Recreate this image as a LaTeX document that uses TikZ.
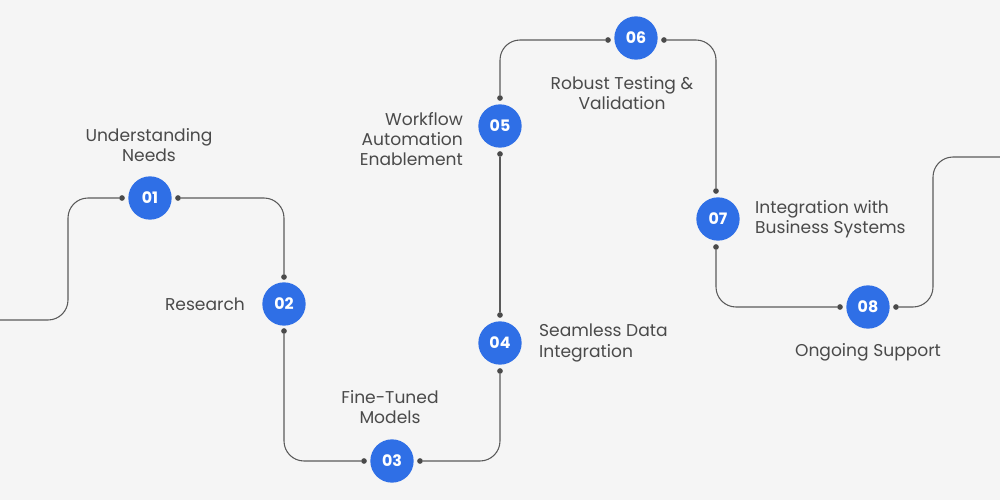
\documentclass[tikz,border=0pt]{standalone}
\usepackage{fontspec}
\setmainfont{Poppins}
\begin{document}
\begin{tikzpicture}[x=0.03cm,y=-0.03cm,
 stepnode/.style={circle,fill=stepblue,minimum size=1.3cm,inner sep=0pt,text=white,font=\fontsize{13.5}{13.5}\selectfont\bfseries},
 lab/.style={text=labgray,font=\fontsize{14.6}{17.2}\selectfont,align=center},
 conn/.style={draw=linegray,line width=0.9pt,rounded corners=0.6cm},
 dot/.style={circle,fill=dotgray,inner sep=0pt,minimum size=0.17cm}]
\definecolor{stepblue}{HTML}{2F6FE6}
\definecolor{labgray}{HTML}{4A4A4A}
\definecolor{linegray}{HTML}{5A5A5A}
\definecolor{dotgray}{HTML}{4A4A4A}
\fill[white!96!black] (0,0) rectangle (1000,500);
\useasboundingbox (0,0) rectangle (1000,500);
\node[stepnode] (s1) at (150,198) {01};
\node[stepnode] (s2) at (284,304) {02};
\node[stepnode] (s3) at (392,461) {03};
\node[stepnode] (s4) at (500,343) {04};
\node[stepnode] (s5) at (500,126) {05};
\node[stepnode] (s6) at (636,38) {06};
\node[stepnode] (s7) at (718,219) {07};
\node[stepnode] (s8) at (868,307) {08};
\node[lab] at (149,145) {Understanding\\Needs};
\node[lab,anchor=east] at (249,304) {Research};
\node[lab] at (390,407) {Fine-Tuned\\Models};
\node[lab,anchor=west,align=left] at (535,343) {Seamless Data\\Integration};
\node[lab,anchor=east,align=right] at (467,139) {Workflow\\Automation\\Enablement};
\node[lab] at (622,93) {Robust Testing \&\\Validation};
\node[lab,anchor=west,align=left] at (751,219) {Integration with\\Business Systems};
\node[lab] at (868,352) {Ongoing Support};
% dots
\node[dot] (a1) at (122,198) {}; \node[dot] (b1) at (178,198) {};
\node[dot] (a2) at (284,277) {}; \node[dot] (b2) at (284,331) {};
\node[dot] (a3) at (364,461) {}; \node[dot] (b3) at (420,461) {};
\node[dot] (a4) at (500,371) {}; \node[dot] (b4) at (500,315) {};
\node[dot] (a5) at (500,154) {}; \node[dot] (b5) at (500,98) {};
\node[dot] (a6) at (608,40) {}; \node[dot] (b6) at (664,40) {};
\node[dot] (a7) at (716,191) {}; \node[dot] (b7) at (716,247) {};
\node[dot] (a8) at (840,307) {}; \node[dot] (b8) at (896,307) {};
\coordinate (st) at (0,320);
\coordinate (en) at (1000,157);
\draw[conn] (st) -| (68,198) -- (a1);
\draw[conn] (b1) -| (a2);
\draw[conn] (b2) |- (a3);
\draw[conn] (b3) -| (a4);
\draw[conn] (b4) -- (a5);
\draw[conn] (b5) |- (a6);
\draw[conn] (b6) -| (a7);
\draw[conn] (b7) |- (a8);
\draw[conn] (b8) -| (933,157) -- (en);
\end{tikzpicture}
\end{document}
